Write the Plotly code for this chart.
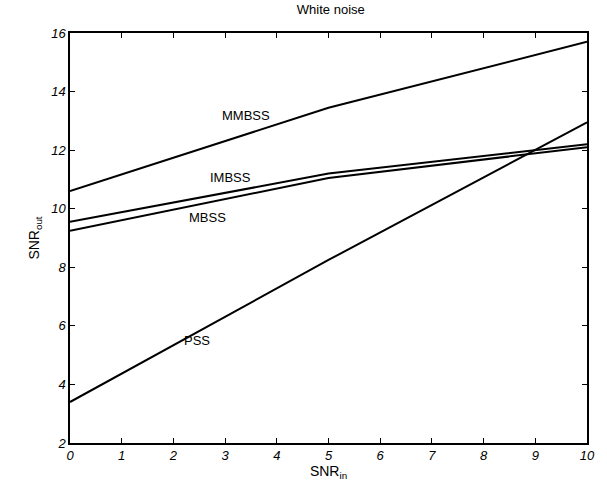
import plotly.graph_objects as go

snr_in = [0, 5, 10]
mmbss = [10.6, 13.45, 15.7]
imbss = [9.55, 11.2, 12.2]
mbss = [9.25, 11.05, 12.1]
pss = [3.4, 8.25, 12.95]

labels = ["MMBSS", "IMBSS", "MBSS", "PSS"]
label_x = [3.4, 3.1, 2.65, 2.45]
label_y = [13.2, 11.05, 9.7, 5.5]

FONT = "Liberation Sans, Arial"

fig = go.Figure()
for name, ys in zip(labels, [mmbss, imbss, mbss, pss]):
    fig.add_trace(go.Scatter(x=snr_in, y=ys, mode="lines", name=name,
                             line=dict(color="black", width=2), showlegend=False))

for t, lx, ly in zip(labels, label_x, label_y):
    fig.add_annotation(x=lx, y=ly, text=t, showarrow=False,
                       font=dict(family=FONT, size=13, color="black"))

axis_common = dict(showline=True, linecolor="black", linewidth=1.5, mirror="ticks",
                   ticks="inside", ticklen=5, tickcolor="black", showgrid=False,
                   zeroline=False,
                   tickfont=dict(family=FONT, size=13, color="black", style="italic"))

fig.update_xaxes(range=[0, 10], dtick=1,
                 title=dict(text="SNR<sub>in</sub>", standoff=4,
                            font=dict(family=FONT, size=14, color="black")),
                 **axis_common)
fig.update_yaxes(range=[2, 16], dtick=2,
                 title=dict(text="SNR<sub>out</sub>", standoff=8,
                            font=dict(family=FONT, size=14, color="black")),
                 **axis_common)

fig.update_layout(
    width=607, height=488,
    margin=dict(l=70, r=20, t=33, b=45),
    paper_bgcolor="white", plot_bgcolor="white",
    title=dict(text="White noise", x=0.545, xanchor="center", y=0.99, yanchor="top",
               font=dict(family=FONT, size=13, color="black")),
)

fig.write_html("out.html")
